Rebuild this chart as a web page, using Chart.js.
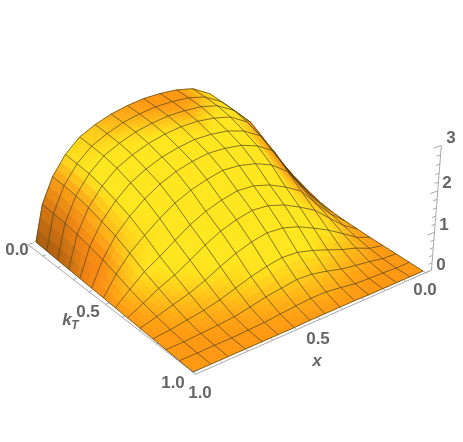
<!DOCTYPE html>
<html>
<head>
<meta charset="utf-8">
<title>Surface</title>
<script src="https://cdn.jsdelivr.net/npm/chart.js@4"></script>
<style>
  html, body { margin: 0; background: #fff; }
  canvas { display: block; }
</style>
</head>
<body>
<canvas id="surfaceChart" width="463" height="442"></canvas>
<script>
// mesh coordinates
const xGrid = [1, 0.933, 0.867, 0.8, 0.733, 0.667, 0.6, 0.533, 0.467, 0.4, 0.333, 0.267, 0.2, 0.133, 0.067, 0];
const kTGrid = [0, 0.077, 0.154, 0.231, 0.308, 0.385, 0.462, 0.538, 0.615, 0.692, 0.769, 0.846, 0.923, 1];

// height: one row per xGrid value, one column per kTGrid value
const surfaceZ = [
  [0, 0, 0, 0, 0, 0, 0, 0, 0, 0, 0, 0, 0, 0],
  [0.80, 0.79, 0.77, 0.72, 0.65, 0.56, 0.44, 0.30, 0.20, 0.12, 0.05, 0.01, 0, 0],
  [1.33, 1.32, 1.29, 1.22, 1.11, 0.99, 0.80, 0.58, 0.41, 0.25, 0.12, 0.04, 0.01, 0],
  [1.72, 1.70, 1.67, 1.59, 1.46, 1.31, 1.08, 0.80, 0.58, 0.37, 0.19, 0.07, 0.01, 0],
  [2.00, 1.98, 1.95, 1.87, 1.74, 1.58, 1.34, 1.04, 0.79, 0.53, 0.29, 0.11, 0.03, 0],
  [2.17, 2.15, 2.12, 2.05, 1.93, 1.79, 1.56, 1.27, 1.01, 0.72, 0.42, 0.19, 0.05, 0],
  [2.30, 2.29, 2.26, 2.19, 2.08, 1.95, 1.73, 1.45, 1.20, 0.89, 0.55, 0.28, 0.09, 0],
  [2.39, 2.38, 2.35, 2.29, 2.18, 2.06, 1.85, 1.58, 1.33, 1.02, 0.65, 0.34, 0.13, 0.01],
  [2.45, 2.44, 2.41, 2.35, 2.25, 2.13, 1.94, 1.67, 1.42, 1.10, 0.72, 0.40, 0.16, 0.01],
  [2.47, 2.46, 2.43, 2.37, 2.26, 2.13, 1.93, 1.66, 1.40, 1.08, 0.70, 0.38, 0.16, 0.01],
  [2.46, 2.45, 2.42, 2.34, 2.23, 2.09, 1.86, 1.56, 1.29, 0.97, 0.60, 0.30, 0.11, 0.01],
  [2.40, 2.38, 2.35, 2.27, 2.13, 1.97, 1.72, 1.39, 1.11, 0.80, 0.47, 0.20, 0.05, 0],
  [2.20, 2.18, 2.15, 2.06, 1.92, 1.75, 1.45, 1.17, 0.90, 0.61, 0.33, 0.14, 0.03, 0],
  [1.83, 1.81, 1.77, 1.55, 1.30, 1.08, 0.88, 0.72, 0.56, 0.38, 0.22, 0.09, 0.02, 0],
  [1.25, 1.22, 1.10, 0.90, 0.72, 0.55, 0.43, 0.33, 0.24, 0.14, 0.07, 0.02, 0, 0],
  [0.60, 0.57, 0.48, 0.34, 0.20, 0.10, 0.04, 0.02, 0.01, 0, 0, 0, 0, 0]
];

const axisTicksXY = [0, 0.1, 0.2, 0.3, 0.4, 0.5, 0.6, 0.7, 0.8, 0.9, 1];
const axisTicksZ = [0, 0.2, 0.4, 0.6, 0.8, 1, 1.2, 1.4, 1.6, 1.8, 2, 2.2, 2.4, 2.6, 2.8, 3];

// camera: (x, kT, z) -> pixel
function project(x, kT, z) {
  const p = 1 - x, q = 1 - kT;
  const w = 1 + 0.18 * p + 0.14 * q - 0.0496 * z;
  return {
    x: (193 + 306.1 * p - 152 * q - 18 * z) / w,
    y: (372 - 52.2 * p - 96.1 * q - 56.4 * z) / w
  };
}
function depth(x, kT, z) {
  return 1 + 0.18 * (1 - x) + 0.14 * (1 - kT) - 0.0496 * z;
}

const nx = xGrid.length, nk = kTGrid.length;

// surface colours
const BROWN = [70, 40, 10], ORANGE = [250, 138, 20], FLAT = [255, 152, 18], YELLOW = [255, 230, 30];
const clamp = v => Math.min(1, Math.max(0, v));
const mix = (a, b, f) => a.map((c, n) => c + (b[n] - c) * f);

// shade every mesh node from the surface normal
const zScale = 0.3;
const nodeColor = xGrid.map((_, i) => kTGrid.map((_, j) => {
  const i0 = Math.max(i - 1, 0), i1 = Math.min(i + 1, nx - 1);
  const j0 = Math.max(j - 1, 0), j1 = Math.min(j + 1, nk - 1);
  const dzdx = zScale * (surfaceZ[i1][j] - surfaceZ[i0][j]) / (xGrid[i1] - xGrid[i0]);
  const dzdk = zScale * (surfaceZ[i][j1] - surfaceZ[i][j0]) / (kTGrid[j1] - kTGrid[j0]);
  const len = Math.hypot(dzdx, dzdk, 1);
  const nu = -dzdx / len, nv = -dzdk / len, up = 1 / len;
  const tilt = nv + 0.4 * Math.abs(nu);
  const y = clamp((tilt - 0.15) / 0.25) * clamp(surfaceZ[i][j] / 0.6);
  let col = mix(FLAT, YELLOW, y);
  col = mix(ORANGE, col, clamp((up - 0.4) / 0.15));
  return mix(BROWN, col, clamp((up - 0.18) / 0.17));
}));

const pts = xGrid.map((x, i) => kTGrid.map((k, j) => project(x, k, surfaceZ[i][j])));

function isFront(i, j) {
  const a = pts[i][j], b = pts[i + 1][j], c = pts[i + 1][j + 1], d = pts[i][j + 1];
  const area = (b.x - a.x) * (d.y - a.y) - (b.y - a.y) * (d.x - a.x)
             + (d.x - c.x) * (b.y - c.y) - (d.y - c.y) * (b.x - c.x);
  return area > 0;
}

// cells, nearest first (the first dataset is painted last)
const cells = [];
for (let i = 0; i < nx - 1; i++) {
  for (let j = 0; j < nk - 1; j++) {
    const zMid = (surfaceZ[i][j] + surfaceZ[i + 1][j] + surfaceZ[i][j + 1] + surfaceZ[i + 1][j + 1]) / 4;
    cells.push({ i, j, d: depth((xGrid[i] + xGrid[i + 1]) / 2, (kTGrid[j] + kTGrid[j + 1]) / 2, zMid) });
  }
}
cells.sort((a, b) => a.d - b.d);

const SUB = 3;
function lerp2(a, b, c, d, s, t) {
  // a=(0,0) b=(1,0) c=(1,1) d=(0,1)
  return (a * (1 - s) + b * s) * (1 - t) + (d * (1 - s) + c * s) * t;
}
function cellDatasets(cell) {
  const { i, j } = cell;
  const a = pts[i][j], b = pts[i + 1][j], c = pts[i + 1][j + 1], d = pts[i][j + 1];
  const ca = nodeColor[i][j], cb = nodeColor[i + 1][j], cc = nodeColor[i + 1][j + 1], cd = nodeColor[i][j + 1];
  const out = [];
  const at = (s, t) => ({ x: lerp2(a.x, b.x, c.x, d.x, s, t), y: lerp2(a.y, b.y, c.y, d.y, s, t) });
  for (let m = SUB - 1; m >= 0; m--) {
    for (let n = SUB - 1; n >= 0; n--) {
      const s0 = m / SUB, s1 = (m + 1) / SUB, t0 = n / SUB, t1 = (n + 1) / SUB;
      const sm = (s0 + s1) / 2, tm = (t0 + t1) / 2;
      const rgb = [0, 1, 2].map(q => Math.round(lerp2(ca[q], cb[q], cc[q], cd[q], sm, tm)));
      const col = `rgb(${rgb[0]},${rgb[1]},${rgb[2]})`;
      out.push({
        data: [at(s0, t0), at(s1, t0), at(s1, t1), at(s0, t1), at(s0, t0)],
        showLine: true, fill: 'shape', backgroundColor: col, borderColor: col,
        borderWidth: 0.8, pointRadius: 0, tension: 0
      });
    }
  }
  return out;
}

// mesh lines, broken where the cell faces away
const GAP = { x: NaN, y: NaN };
const meshSets = [];
const meshStyle = { showLine: true, fill: false, borderColor: 'rgba(72,62,30,0.75)', borderWidth: 0.9, pointRadius: 0, tension: 0 };
for (let j = 0; j < nk; j++) {
  const line = [];
  for (let i = 0; i < nx - 1; i++) {
    const vis = (j < nk - 1 && isFront(i, j)) || (j > 0 && isFront(i, j - 1));
    line.push(vis ? pts[i][j] : GAP);
    if (vis) line.push(pts[i + 1][j]);
  }
  meshSets.push({ data: line, ...meshStyle });
}
for (let i = 0; i < nx; i++) {
  const line = [];
  for (let j = 0; j < nk - 1; j++) {
    const vis = (i < nx - 1 && isFront(i, j)) || (i > 0 && isFront(i - 1, j));
    line.push(vis ? pts[i][j] : GAP);
    if (vis) line.push(pts[i][j + 1]);
  }
  meshSets.push({ data: line, ...meshStyle });
}

// axes
const axisStyle = { showLine: true, fill: false, borderColor: '#a8a8a8', borderWidth: 1, pointRadius: 0, tension: 0 };
const kTAxisLine = [];
axisTicksXY.forEach(k => {
  const ux = 1.03 - 0.03 * k;
  const len = Math.abs(k * 10 % 5) < 0.01 ? 0.022 : 0.012;
  kTAxisLine.push(project(ux, k, 0), project(ux - len, k, 0), GAP);
});
const xAxisLine = [];
axisTicksXY.forEach(x => {
  const len = Math.abs(x * 10 % 5) < 0.01 ? 0.022 : 0.012;
  xAxisLine.push(project(x, 1.015, 0), project(x, 1.015 - len, 0), GAP);
});
const zAxisLine = [];
axisTicksZ.forEach(z => {
  const len = Number.isInteger(z) ? 0.035 : 0.018;
  zAxisLine.push(project(-0.03, 1.015, z), project(-0.03 + len, 1.015, z), GAP);
});
const axisSets = [
  { data: [project(1.03, 0, 0), project(1, 1.015, 0)], ...axisStyle },
  { data: [project(1, 1.015, 0), project(-0.03, 1.015, 0)], ...axisStyle },
  { data: [project(-0.03, 1.015, 0), project(-0.03, 1.015, 3)], ...axisStyle },
  { data: kTAxisLine, ...axisStyle },
  { data: xAxisLine, ...axisStyle },
  { data: zAxisLine, ...axisStyle }
];

const datasets = [...meshSets, ...axisSets];
cells.forEach(c => datasets.push(...cellDatasets(c)));

// tick and axis text
const labelColor = '#666';
const labelFont = 'bold 17px "Liberation Sans"';
const tickTexts = [
  ['0.0', 17, 250], ['0.5', 88, 312], ['1.0', 173, 383],
  ['1.0', 200, 393], ['0.5', 318, 339], ['0.0', 425, 290],
  ['0', 441, 265], ['1', 444, 225], ['2', 447, 183], ['3', 451, 138]
];
const textPlugin = {
  id: 'axisText',
  afterDraw(chart) {
    const ctx = chart.ctx;
    ctx.save();
    ctx.fillStyle = labelColor;
    ctx.textAlign = 'center';
    ctx.textBaseline = 'middle';
    ctx.font = labelFont;
    tickTexts.forEach(t => ctx.fillText(t[0], t[1], t[2]));
    ctx.font = 'italic bold 17px "Liberation Sans"';
    ctx.fillText('x', 317, 361);
    ctx.fillText('k', 67, 320);
    ctx.font = 'italic bold 12px "Liberation Sans"';
    ctx.fillText('T', 75, 326);
    ctx.restore();
  }
};

new Chart(document.getElementById('surfaceChart').getContext('2d'), {
  type: 'scatter',
  data: { datasets },
  plugins: [textPlugin],
  options: {
    responsive: false,
    animation: false,
    events: [],
    layout: { padding: 0 },
    plugins: { legend: { display: false }, tooltip: { enabled: false } },
    scales: {
      x: { type: 'linear', min: 0, max: 463, display: false },
      y: { type: 'linear', min: 0, max: 442, reverse: true, display: false }
    }
  }
});
</script>
</body>
</html>
